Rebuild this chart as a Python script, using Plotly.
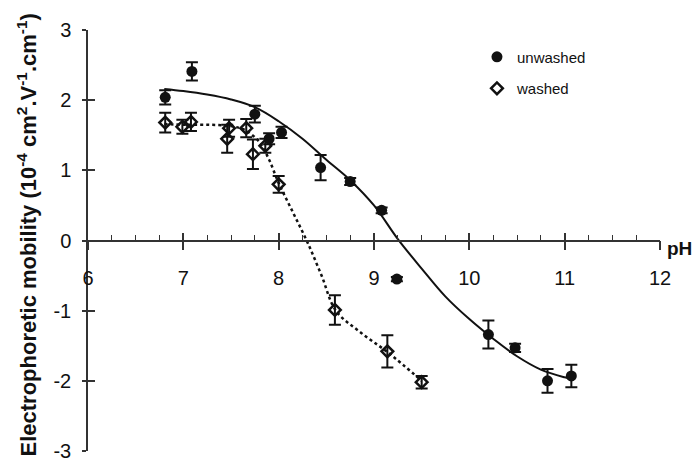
import plotly.graph_objects as go

# ---- data ----
unw_ph = [6.81, 7.09, 7.75, 7.90, 8.03, 8.44, 8.75, 9.08, 9.24, 10.20, 10.48, 10.82, 11.07]
unw_mu = [2.04, 2.41, 1.80, 1.45, 1.54, 1.04, 0.84, 0.43, -0.55, -1.34, -1.53, -2.00, -1.93]
unw_err = [0.10, 0.13, 0.12, 0.08, 0.08, 0.18, 0.05, 0.04, 0.03, 0.20, 0.06, 0.17, 0.16]

was_ph = [6.81, 6.99, 7.08, 7.48, 7.46, 7.66, 7.73, 7.86, 8.00, 8.59, 9.14, 9.50]
was_mu = [1.68, 1.62, 1.69, 1.60, 1.45, 1.60, 1.23, 1.35, 0.80, -0.99, -1.58, -2.02]
was_err = [0.14, 0.10, 0.13, 0.12, 0.20, 0.13, 0.21, 0.10, 0.12, 0.21, 0.23, 0.09]

# solid fitted curve (unwashed)
fit_ph = [6.8, 7.0, 7.25, 7.5, 7.75, 8.0, 8.25, 8.5, 8.75, 9.0, 9.25, 9.5, 9.75,
          10.0, 10.25, 10.5, 10.75, 11.0, 11.1]
fit_mu = [2.16, 2.13, 2.08, 2.01, 1.90, 1.70, 1.45, 1.15, 0.86, 0.50, 0.02, -0.40,
          -0.80, -1.12, -1.40, -1.65, -1.84, -1.95, -1.98]

# dotted curve (washed)
dot_ph = [6.8, 7.0, 7.25, 7.5, 7.65, 7.8, 7.9, 8.0, 8.15, 8.3, 8.45, 8.6, 8.85, 9.15, 9.5]
dot_mu = [1.66, 1.65, 1.65, 1.63, 1.57, 1.40, 1.15, 0.82, 0.40, -0.02, -0.50, -1.00,
          -1.30, -1.60, -2.00]

x_ticks = [6, 7, 8, 9, 10, 11, 12]
y_ticks = [-3, -2, -1, 0, 1, 2, 3]

FONT = "Liberation Sans, Arial, Helvetica, sans-serif"
INK = "#111111"

fig = go.Figure()

fig.add_trace(go.Scatter(
    x=unw_ph, y=unw_mu, mode="markers", name="unwashed",
    legendgroup="a",
    marker=dict(symbol="circle", size=11, color=INK),
    error_y=dict(type="data", array=unw_err, color=INK, thickness=2, width=6),
))
fig.add_trace(go.Scatter(
    x=was_ph, y=was_mu, mode="markers", name="washed",
    legendgroup="b",
    marker=dict(symbol="diamond-open", size=9, color=INK, line=dict(width=2.5, color=INK)),
    error_y=dict(type="data", array=was_err, color=INK, thickness=2, width=6),
))
fig.add_trace(go.Scatter(
    x=fit_ph, y=fit_mu, mode="lines", showlegend=False,
    line=dict(color=INK, width=2, shape="spline"),
    xaxis="x2", yaxis="y2",
))
fig.add_trace(go.Scatter(
    x=dot_ph, y=dot_mu, mode="lines", showlegend=False,
    line=dict(color=INK, width=2.5, dash="dot", shape="spline"),
    xaxis="x2", yaxis="y2",
))

axis_common = dict(showgrid=False, zeroline=False)

fig.update_layout(
    width=693, height=463,
    margin=dict(l=88, r=33, t=30, b=12, autoexpand=False),
    paper_bgcolor="white", plot_bgcolor="white",
    font=dict(family=FONT, color=INK),
    xaxis=dict(
        range=[6, 12], tickvals=x_ticks, ticktext=[str(v) for v in x_ticks],
        anchor="free", position=0.5,
        showline=True, linecolor="#333333", linewidth=1.5,
        ticks="outside", ticklen=9, tickwidth=1.5, tickcolor="#333333",
        tickfont=dict(size=20, family=FONT, color=INK), ticklabelstandoff=11,
        **axis_common,
    ),
    xaxis2=dict(
        range=[6, 12], overlaying="x", anchor="free", position=0.5,
        tickvals=x_ticks, showticklabels=False, showline=False,
        ticks="inside", ticklen=8, tickwidth=1.5, tickcolor="#333333",
        minor=dict(ticks="inside", ticklen=6, dtick=0.25, tick0=6,
                   tickwidth=1.2, tickcolor="#333333"),
        **axis_common,
    ),
    yaxis=dict(
        range=[-3, 3], tickvals=y_ticks, ticktext=[str(v) for v in y_ticks],
        anchor="x",
        showline=True, linecolor="#333333", linewidth=1.5,
        ticks="outside", ticklen=4, tickwidth=1.5, tickcolor="#333333",
        tickfont=dict(size=20, family=FONT, color=INK), ticklabelstandoff=7,
        **axis_common,
    ),
    yaxis2=dict(
        range=[-3, 3], overlaying="y", anchor="x2", side="left",
        tickvals=y_ticks, showticklabels=False, showline=False,
        ticks="inside", ticklen=7, tickwidth=1.5, tickcolor="#333333",
        **axis_common,
    ),
    legend=dict(
        x=0.68, y=0.975, xanchor="left", yanchor="top",
        bgcolor="rgba(0,0,0,0)", font=dict(size=15, family=FONT, color=INK),
        tracegroupgap=9, traceorder="grouped", itemwidth=30,
    ),
    annotations=[
        dict(text="<b>pH</b>", x=1, xref="paper", xanchor="left", xshift=5,
             y=0, yref="y", yanchor="middle", yshift=-8, showarrow=False,
             font=dict(size=19, family=FONT, color=INK)),
        dict(text="<b>Electrophoretic mobility (10<sup>-4</sup> cm<sup>2</sup>.V<sup>-1</sup>.cm<sup>-1</sup>)</b>",
             x=0, xref="paper", xanchor="center", xshift=-62,
             y=0.5, yref="paper", yanchor="middle", yshift=5,
             textangle=-90, showarrow=False,
             font=dict(size=22, family=FONT, color=INK)),
    ],
)

fig.write_html("out.html")
